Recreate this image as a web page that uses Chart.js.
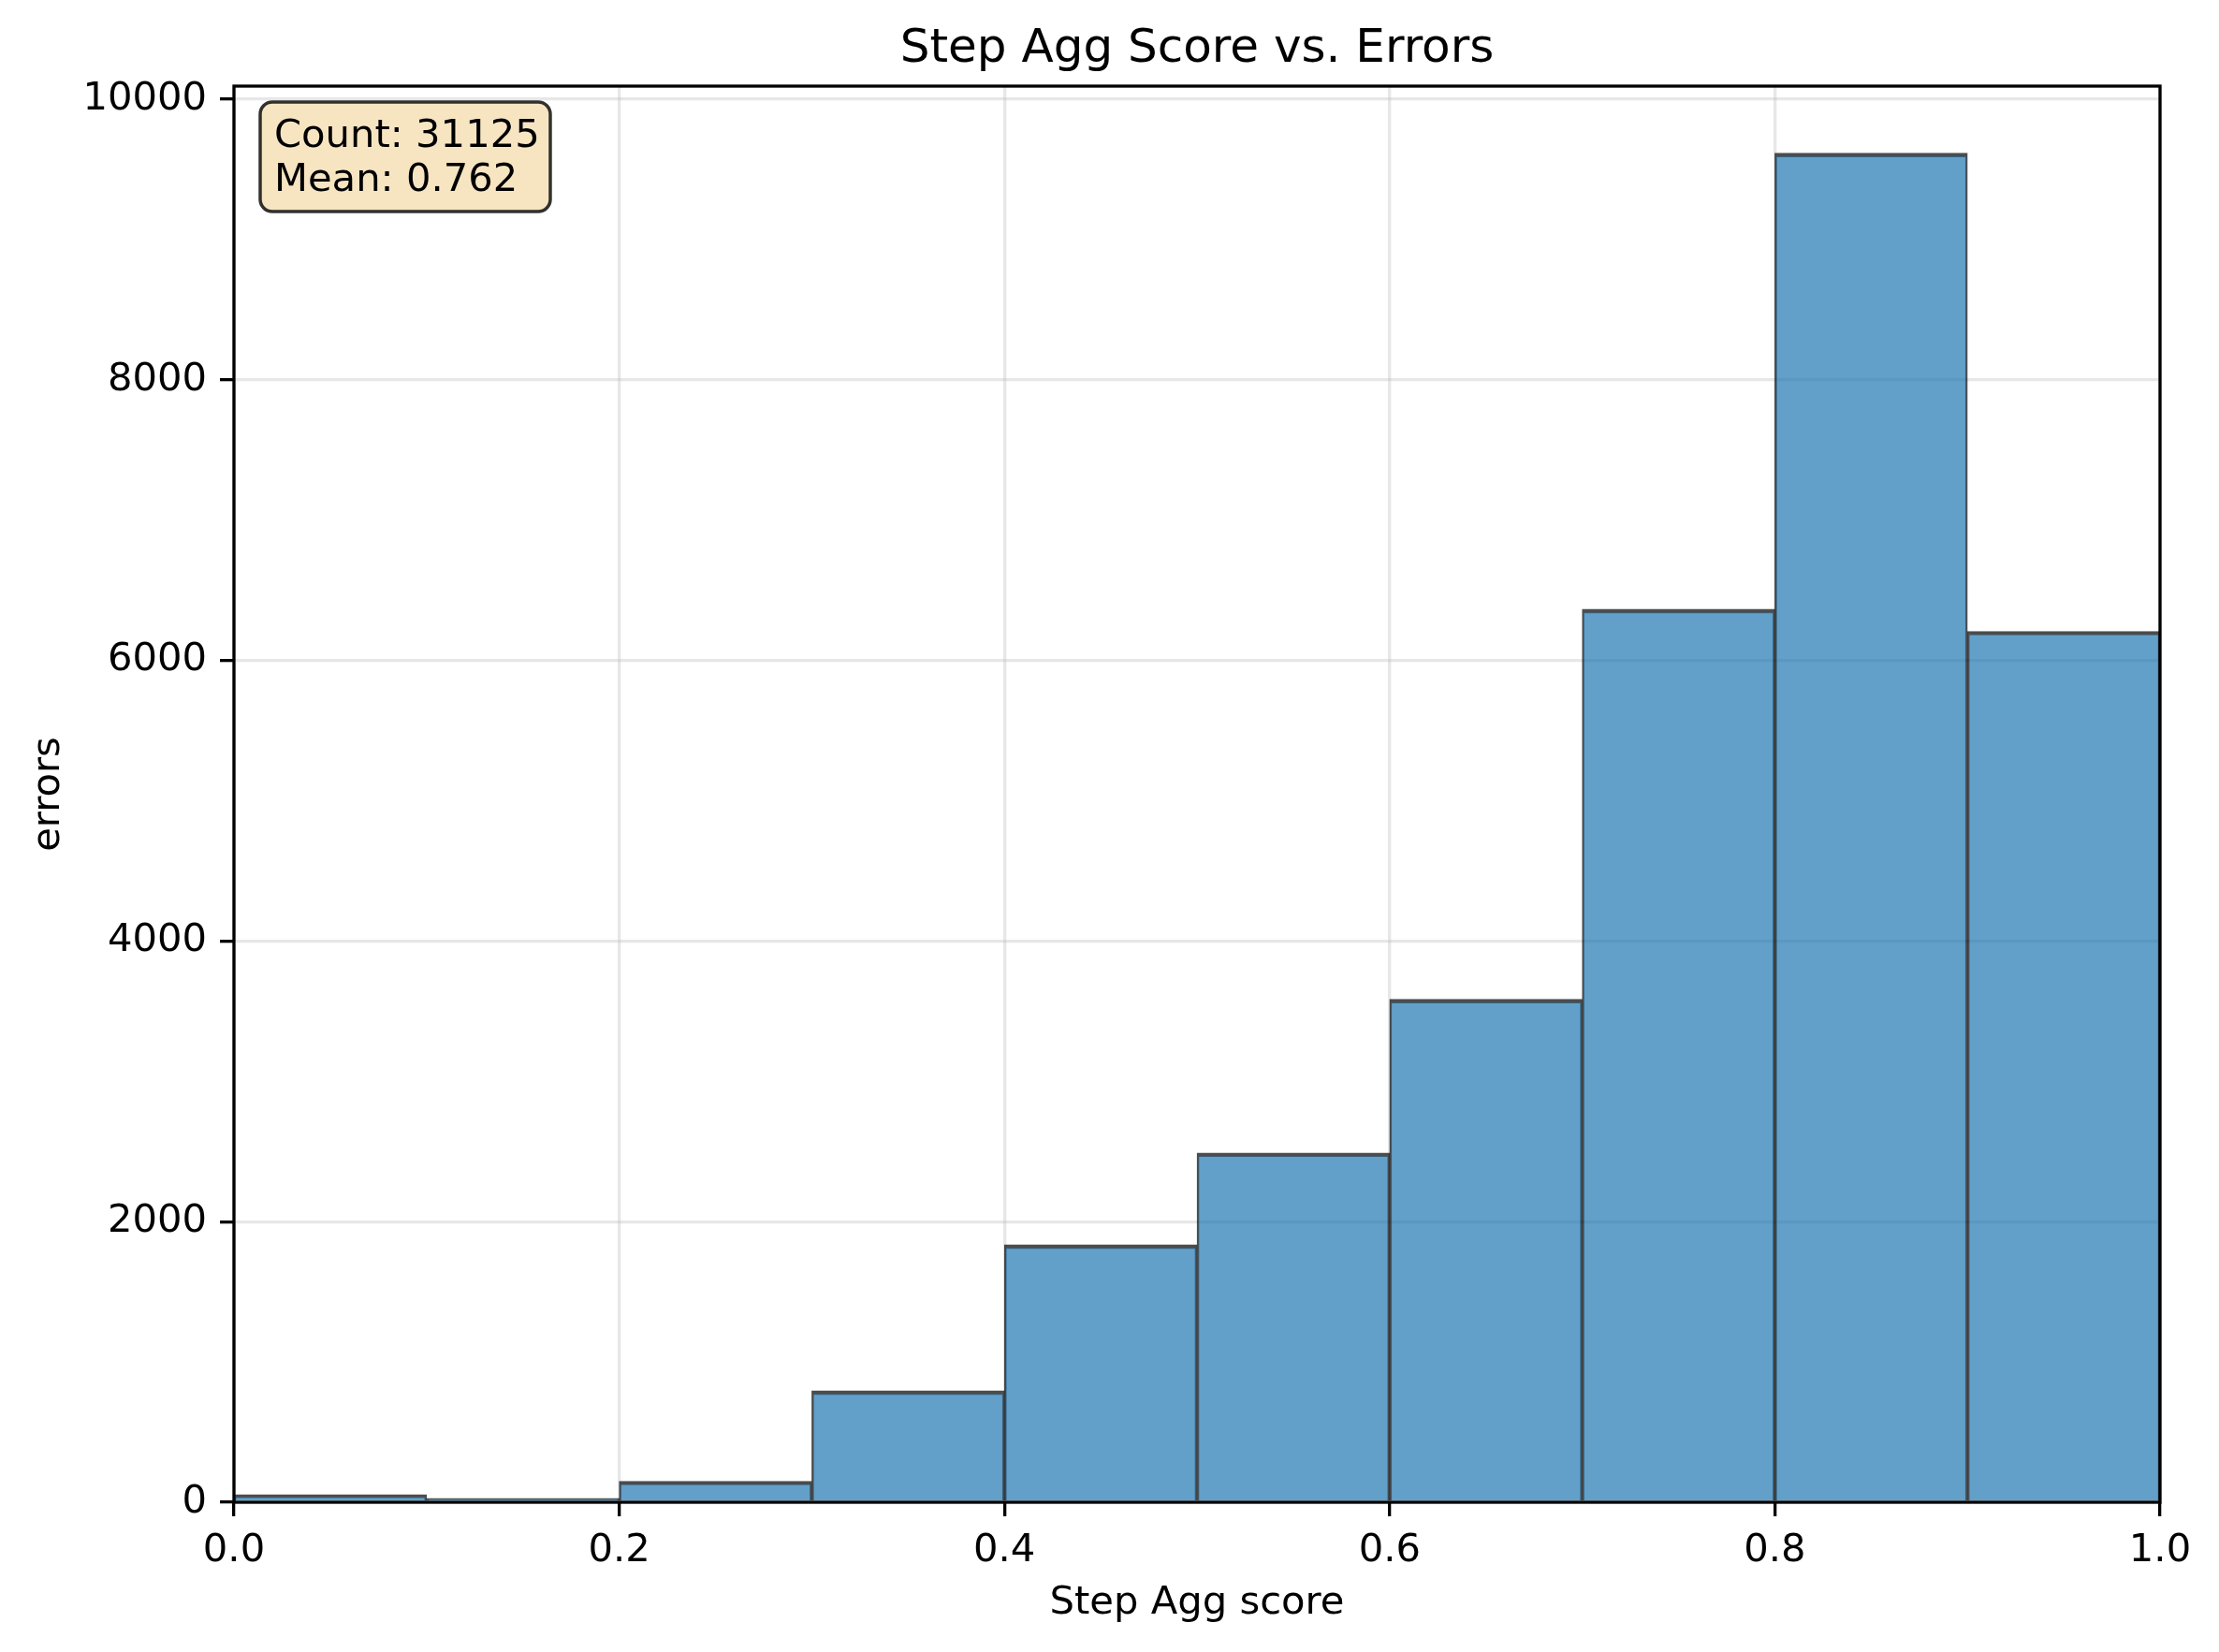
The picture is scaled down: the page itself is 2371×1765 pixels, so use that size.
<!DOCTYPE html>
<html>
<head>
<meta charset="utf-8">
<script src="https://cdn.jsdelivr.net/npm/chart.js@4"></script>
<style>
  body { margin: 0; background: #fff; }
</style>
</head>
<body>
<canvas id="hist" width="2371" height="1765"></canvas>
<script>
// histogram bins (edges) and counts per bin
const binEdges = [0.0, 0.1, 0.2, 0.3, 0.4, 0.5, 0.6, 0.7, 0.8, 0.9, 1.0];
const binCounts = [55, 28, 150, 795, 1835, 2490, 3585, 6365, 9615, 6207];
const xTicks = [0.0, 0.2, 0.4, 0.6, 0.8, 1.0];
const yTicks = [0, 2000, 4000, 6000, 8000, 10000];
const statCount = 31125;
const statMean = 0.762;

const FONT = "'DejaVu Sans', sans-serif";

// Box with count / mean in the upper left corner + top/right spines
const extras = {
    id: "extras",
    afterDatasetsDraw(chart) {
        const ctx = chart.ctx;
        const area = chart.chartArea;
        ctx.save();
        // spines
        ctx.strokeStyle = "#000";
        ctx.lineWidth = 3.3;
        ctx.strokeRect(area.left, area.top, area.right - area.left, area.bottom - area.top);

        // stats box
        const x = area.left + 28, y = area.top + 17, w = 310, h = 117, r = 13;
        ctx.beginPath();
        ctx.roundRect(x, y, w, h, r);
        ctx.fillStyle = "rgba(245, 222, 179, 0.8)";
        ctx.fill();
        ctx.lineWidth = 3.5;
        ctx.strokeStyle = "rgba(0, 0, 0, 0.8)";
        ctx.stroke();

        ctx.fillStyle = "#000";
        ctx.font = "41.7px " + FONT;
        ctx.textAlign = "left";
        ctx.textBaseline = "alphabetic";
        ctx.fillText("Count: " + statCount, x + 15, y + 48);
        ctx.fillText("Mean: " + statMean.toFixed(3), x + 15, y + 95);
        ctx.restore();
    }
};

const centers = binCounts.map((c, i) => ({
    x: (binEdges[i] + binEdges[i + 1]) / 2,
    y: c
}));

new Chart(document.getElementById("hist"), {
    type: "bar",
    data: {
        datasets: [{
            data: centers,
            backgroundColor: "rgba(31, 119, 180, 0.7)",
            borderColor: "rgba(0, 0, 0, 0.7)",
            borderWidth: { top: 4, left: 2, right: 2, bottom: 0 },
            borderSkipped: "start",
            categoryPercentage: 1,
            barPercentage: 1
        }]
    },
    options: {
        responsive: false,
        animation: false,
        devicePixelRatio: 1,
        layout: { padding: { top: 0, right: 63, bottom: 0, left: 0 } },
        plugins: {
            legend: { display: false },
            tooltip: { enabled: false },
            title: {
                display: true,
                text: "Step Agg Score vs. Errors",
                fullSize: false,
                color: "#000",
                font: { family: FONT, size: 50, weight: "normal", lineHeight: 1.2 },
                padding: { top: 23, bottom: 9 }
            }
        },
        scales: {
            x: {
                type: "linear",
                min: 0,
                max: 1,
                offset: false,
                afterBuildTicks: (scale) => { scale.ticks = xTicks.map(v => ({ value: v })); },
                afterFit: (scale) => { scale.height = 160; },
                grid: {
                    offset: false,
                    color: "rgba(176, 176, 176, 0.3)",
                    lineWidth: 3.3,
                    tickColor: "#000",
                    tickWidth: 3.3,
                    tickLength: 15
                },
                border: { display: false },
                ticks: {
                    color: "#000",
                    padding: 12,
                    maxRotation: 0,
                    font: { family: FONT, size: 41.7 },
                    callback: (v) => Number(v).toFixed(1)
                },
                title: {
                    display: true,
                    text: "Step Agg score",
                    color: "#000",
                    font: { family: FONT, size: 41.7, lineHeight: 1.2 },
                    padding: { top: 0, bottom: 27 }
                }
            },
            y: {
                min: 0,
                max: 10093,
                afterBuildTicks: (scale) => { scale.ticks = yTicks.map(v => ({ value: v })); },
                afterFit: (scale) => { scale.width = 250; },
                grid: {
                    color: "rgba(176, 176, 176, 0.3)",
                    lineWidth: 3.3,
                    tickColor: "#000",
                    tickWidth: 3.3,
                    tickLength: 15
                },
                border: { display: false },
                ticks: {
                    color: "#000",
                    padding: 14,
                    font: { family: FONT, size: 41.7 },
                    callback: (v) => String(v)
                },
                title: {
                    display: true,
                    text: "errors",
                    color: "#000",
                    font: { family: FONT, size: 41.7, lineHeight: 1.2 },
                    padding: { top: 27, bottom: 0 }
                }
            }
        }
    },
    plugins: [extras]
});
</script>
</body>
</html>
